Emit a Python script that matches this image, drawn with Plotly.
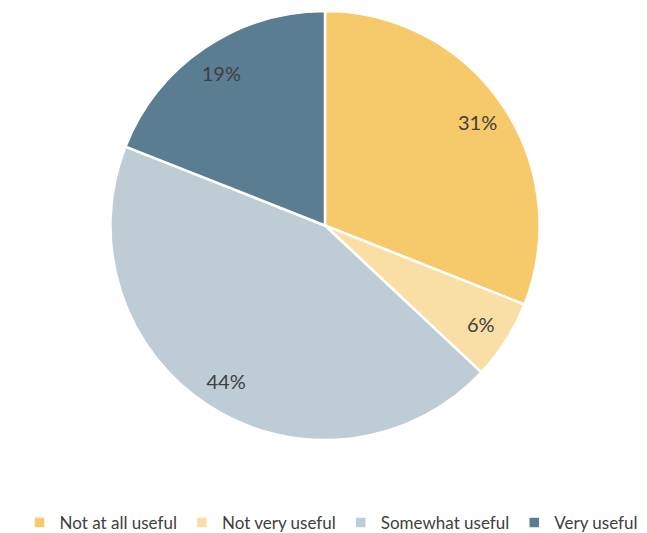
import plotly.graph_objects as go

categories = ["Not at all useful", "Not very useful", "Somewhat useful", "Very useful"]
values = [31, 6, 44, 19]
colors = ["#F6C96B", "#F9DFA6", "#BECCD5", "#5B7D91"]

W, H = 647, 533
cx, cy, r = 317, 220, 217

dom = dict(x=[(cx - r) / W, (cx + r) / W], y=[(H - cy - r) / H, (H - cy + r) / H])
font_family = "Lato, Liberation Sans, Arial"

fig = go.Figure()
fig.add_trace(go.Pie(
    labels=categories,
    values=values,
    sort=False,
    direction="clockwise",
    rotation=0,
    marker=dict(colors=colors, line=dict(color="white", width=2.5)),
    textinfo="none",
    domain=dom,
    hoverinfo="label+percent",
))
# transparent ring used only to place the percentage labels near the rim
fig.add_trace(go.Pie(
    labels=categories,
    values=values,
    sort=False,
    direction="clockwise",
    rotation=0,
    hole=0.72,
    marker=dict(colors=["rgba(0,0,0,0)"] * 4, line=dict(width=0)),
    texttemplate="%{percent:.0%}",
    textposition="inside",
    insidetextorientation="horizontal",
    textfont=dict(family=font_family, size=20, color="#404040"),
    domain=dom,
    hoverinfo="skip",
    showlegend=False,
))

fig.update_layout(
    width=W, height=H,
    margin=dict(l=0, r=0, t=0, b=0),
    paper_bgcolor="white",
    plot_bgcolor="white",
    showlegend=True,
    legend=dict(
        orientation="h",
        x=0.5, xanchor="center",
        y=(H - 521) / H, yanchor="middle",
        font=dict(family=font_family, size=17, color="#404040"),
        itemwidth=30,
        traceorder="normal",
    ),
)

fig.write_html("out.html")
